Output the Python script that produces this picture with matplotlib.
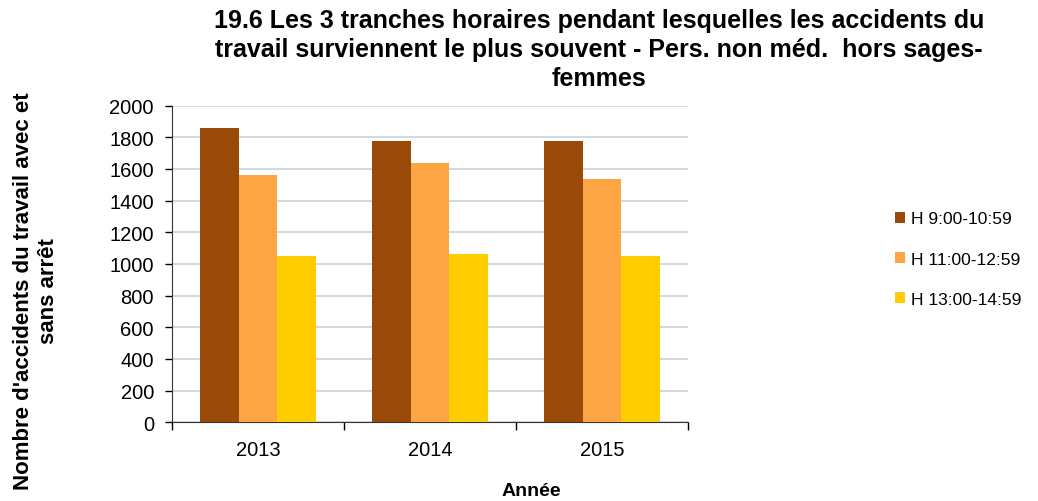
import matplotlib
matplotlib.use("Agg")
import matplotlib.pyplot as plt
import numpy as np

plt.rcParams['font.family'] = ['Liberation Sans', 'DejaVu Sans']

years = ["2013", "2014", "2015"]
series_names = ["H 9:00-10:59", "H 11:00-12:59", "H 13:00-14:59"]
h9 = [1860, 1775, 1775]
h11 = [1560, 1635, 1535]
h13 = [1050, 1060, 1050]
colors = ["#994A08", "#FBA544", "#FFCC00"]

fig = plt.figure(figsize=(10.38, 5.02), dpi=100)
ax = fig.add_axes([0.1657, 0.1568, 0.4971, 0.6307])

x = np.arange(len(years))
w = 0.224
for i, (vals, c, name) in enumerate(zip([h9, h11, h13], colors, series_names)):
    ax.bar(x + (i - 1) * w, vals, width=w, color=c, label=name, zorder=3)

ax.set_xlim(-0.5, 2.5)
ax.set_ylim(0, 2000)
ax.set_yticks(range(0, 2001, 200))
ax.set_xticks(x)
ax.set_xticklabels(years, fontsize=14.5)
ax.set_xticks([-0.5, 0.5, 1.5, 2.5], minor=True)
ax.tick_params(axis='x', which='major', length=0, pad=13)
ax.tick_params(axis='x', which='minor', length=6, direction='out', width=1)
ax.tick_params(axis='y', labelsize=14.5, length=5, direction='out', width=1, pad=8)
ax.yaxis.grid(True, color="#C8D2DC", linewidth=1.2, zorder=0)
for s in ['top', 'right']:
    ax.spines[s].set_visible(False)
ax.spines['left'].set_color('#333333')
ax.spines['bottom'].set_color('#333333')

fig.text(0.512, 0.02, "Année", fontsize=14, fontweight='bold', ha='center', va='center')
fig.text(0.035, 0.42, "Nombre d'accidents du travail avec et\nsans arrêt", rotation=90,
         fontsize=16, fontweight='bold', ha='center', va='center', linespacing=1.25)

fig.text(0.577, 0.982, "19.6 Les 3 tranches horaires pendant lesquelles les accidents du\n"
         "travail surviennent le plus souvent - Pers. non méd.  hors sages-\nfemmes",
         fontsize=18, fontweight='bold', ha='center', va='top', linespacing=1.25)

leg = fig.legend(loc='center left', bbox_to_anchor=(0.862, 0.482), frameon=False,
                 fontsize=12.5, handlelength=0.6, handleheight=0.6, handletextpad=0.35,
                 labelspacing=1.45, borderaxespad=0, borderpad=0)

fig.savefig("out.png", dpi=100)
